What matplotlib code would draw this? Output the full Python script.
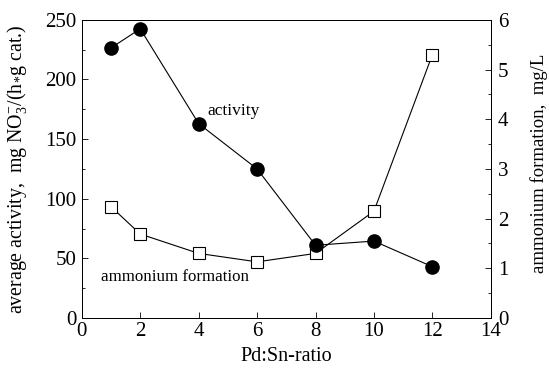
import matplotlib.pyplot as plt
from matplotlib.ticker import MultipleLocator

plt.rcParams['font.family'] = ['Liberation Serif', 'DejaVu Serif']
plt.rcParams['mathtext.fontset'] = 'custom'
plt.rcParams['mathtext.rm'] = 'Liberation Serif'
plt.rcParams['mathtext.it'] = 'Liberation Serif:italic'

# data
ratio = [1, 2, 4, 6, 8, 10, 12]
activity = [226.5, 242.5, 163, 125, 61, 64.5, 43]
ammonium = [2.24, 1.69, 1.30, 1.13, 1.30, 2.15, 5.30]

fig = plt.figure(figsize=(5.49, 3.75), dpi=100)
ax = fig.add_axes([0.149, 0.152, 0.745, 0.795])
ax2 = ax.twinx()

# activity on top of ammonium
ax.set_zorder(ax2.get_zorder() + 1)
ax.patch.set_visible(False)

ax2.plot(ratio, ammonium, '-s', color='black', lw=0.8, markersize=9,
         markerfacecolor='white', markeredgewidth=0.8)
ax.plot(ratio, activity, '-o', color='black', lw=0.8, markersize=9.5)

ax.set_xlim(0, 14)
ax.set_ylim(0, 250)
ax2.set_ylim(0, 6)

ax.xaxis.set_major_locator(MultipleLocator(2))
ax.yaxis.set_major_locator(MultipleLocator(50))
ax.yaxis.set_minor_locator(MultipleLocator(25))
ax2.yaxis.set_major_locator(MultipleLocator(1))
ax2.yaxis.set_minor_locator(MultipleLocator(0.5))

for a in (ax, ax2):
    a.tick_params(which='both', direction='in', labelsize=15, width=0.6)
    a.tick_params(which='major', length=4, pad=4)
    a.tick_params(which='minor', length=2.5)
    for s in a.spines.values():
        s.set_linewidth(0.7)
ax.tick_params(axis='x', top=False, pad=3)
ax2.tick_params(axis='y', pad=5)

ax.set_xlabel('Pd:Sn-ratio', fontsize=14.5, labelpad=4)
ax.set_ylabel(r'average activity,  mg NO$_3^{-}$/(h$_{*}$g cat.)', fontsize=14.3)
ax2.set_ylabel('ammonium formation,  mg/L', fontsize=13.5)
ax.yaxis.set_label_coords(-0.13, 0.5)
ax2.yaxis.set_label_coords(1.095, 0.52)

ax.text(4.3, 174, 'activity', fontsize=12.5, va='center')
ax.text(0.65, 34, 'ammonium formation', fontsize=12.2, va='center')

fig.savefig('out.png', dpi=100)
